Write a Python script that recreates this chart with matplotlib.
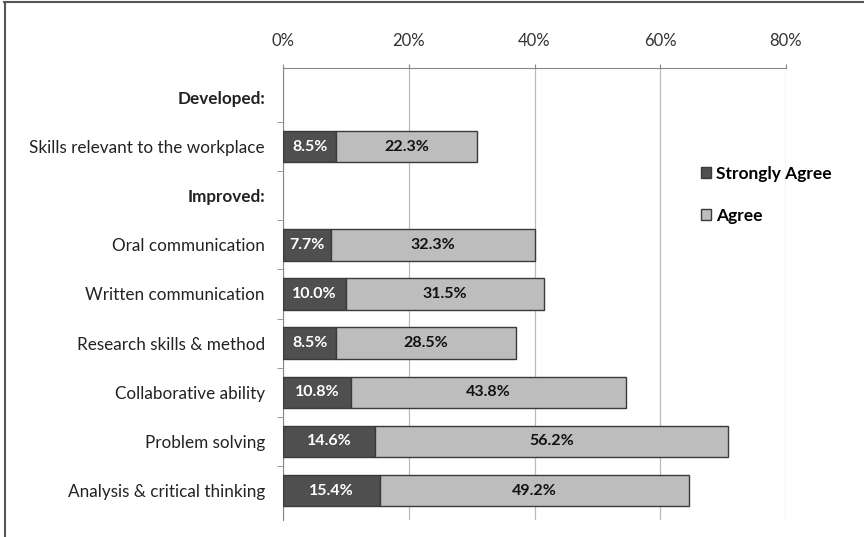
import matplotlib.pyplot as plt
from matplotlib.patches import Patch
from matplotlib.lines import Line2D

categories = ['Developed:', 'Skills relevant to the workplace', 'Improved:',
              'Oral communication', 'Written communication', 'Research skills & method',
              'Collaborative ability', 'Problem solving', 'Analysis & critical thinking']
headers = ['Developed:', 'Improved:']
strongly_agree = [None, 8.5, None, 7.7, 10.0, 8.5, 10.8, 14.6, 15.4]
agree = [None, 22.3, None, 32.3, 31.5, 28.5, 43.8, 56.2, 49.2]
x_ticks = [0, 20, 40, 60, 80]

dark = '#4f4f4f'
light = '#bdbdbd'
edge = '#3a3a3a'

plt.rcParams['font.family'] = ['Lato', 'DejaVu Sans']

fig = plt.figure(figsize=(8.66, 5.37), dpi=100)
ax = fig.add_axes([283 / 866, 1 - 520 / 537, (786 - 283) / 866, (520 - 68) / 537])

for i, cat in enumerate(categories):
    sa = strongly_agree[i]
    ag = agree[i]
    if sa is None:
        continue
    ax.barh(i, sa, height=0.64, color=dark, edgecolor=edge, linewidth=1, zorder=3)
    ax.barh(i, ag, left=sa, height=0.64, color=light, edgecolor=edge, linewidth=1, zorder=3)
    ax.text(sa / 2, i, f'{sa:.1f}%', ha='center', va='center', color='white',
            fontsize=11.5, fontweight='bold', zorder=4)
    ax.text(sa + ag / 2, i, f'{ag:.1f}%', ha='center', va='center', color='#111111',
            fontsize=11.5, fontweight='bold', zorder=4)

ax.set_xlim(0, 80)
ax.set_ylim(len(categories) - 0.4, -0.6)
ax.xaxis.tick_top()
ax.set_xticks(x_ticks)
ax.set_xticklabels([f'{t}%' for t in x_ticks], fontsize=12, color='#333333')
ax.tick_params(axis='x', length=3, pad=11, color='#888888')
ax.grid(axis='x', color='#bbbbbb', linewidth=0.9, zorder=0)

ax.set_yticks(range(len(categories)))
ax.set_yticklabels(categories, fontsize=12.3, color='#222222')
for lbl in ax.get_yticklabels():
    if lbl.get_text() in headers:
        lbl.set_fontweight('bold')
ax.tick_params(axis='y', length=0, pad=13)
ax.set_yticks([i + 0.5 for i in range(len(categories) - 1)], minor=True)
ax.tick_params(axis='y', which='minor', length=4, color='#888888')

for side in ['right', 'bottom']:
    ax.spines[side].set_visible(False)
ax.spines['top'].set_color('#888888')
ax.spines['left'].set_color('#888888')

handles = [Patch(facecolor=dark, edgecolor=edge, label='Strongly Agree'),
           Patch(facecolor=light, edgecolor=edge, label='Agree')]
fig.legend(handles=handles, loc='upper left', bbox_to_anchor=(685 / 866, 1 - 150 / 537),
           frameon=False, prop={'weight': 'bold', 'size': 12.5}, handlelength=0.6,
           handleheight=0.6, handletextpad=0.3, labelspacing=1.5)

# frame lines along the top and left edges
fig.add_artist(Line2D([4 / 866, 863 / 866], [1 - 1.5 / 537, 1 - 1.5 / 537],
                      transform=fig.transFigure, color='#555555', linewidth=1.5))
fig.add_artist(Line2D([4.5 / 866, 4.5 / 866], [0, 1 - 1.5 / 537],
                      transform=fig.transFigure, color='#555555', linewidth=1.5))

fig.savefig('out.png', dpi=100)
